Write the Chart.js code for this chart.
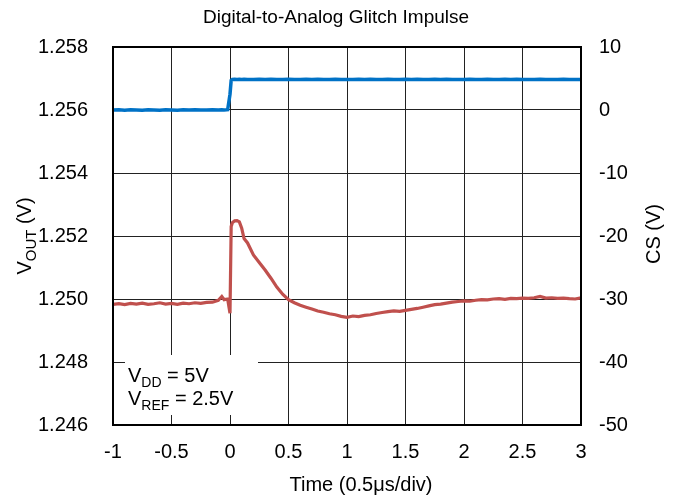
<!DOCTYPE html>
<html>
<head>
<meta charset="utf-8">
<script src="https://cdn.jsdelivr.net/npm/chart.js@4"></script>
<style>
  body { margin: 0; background: #fff; }
  #wrap { width: 673px; height: 500px; }
</style>
</head>
<body>
<div id="wrap"><canvas id="glitch"></canvas></div>
<script>
// time axis (0.5us/div), shared by both traces
const time = [
  -1.00, -0.95, -0.90, -0.85, -0.80, -0.75, -0.70, -0.65, -0.60, -0.55,
  -0.50, -0.45, -0.40, -0.35, -0.30, -0.25, -0.20, -0.15, -0.10, -0.07,
  -0.05, -0.02, 0.00, 0.01, 0.02, 0.04, 0.06, 0.08, 0.10, 0.12,
  0.15, 0.20, 0.25, 0.30, 0.35, 0.40, 0.45, 0.50, 0.55, 0.60,
  0.65, 0.70, 0.75, 0.80, 0.85, 0.90, 0.95, 1.00, 1.05, 1.10,
  1.15, 1.20, 1.25, 1.30, 1.35, 1.40, 1.45, 1.50, 1.55, 1.60,
  1.65, 1.70, 1.75, 1.80, 1.85, 1.90, 1.95, 2.00, 2.05, 2.10,
  2.15, 2.20, 2.25, 2.30, 2.35, 2.40, 2.45, 2.50, 2.55, 2.60,
  2.65, 2.70, 2.75, 2.80, 2.85, 2.90, 2.95, 3.00
];

// VOUT (V), left axis
const vout = [
  1.24983, 1.24985, 1.24982, 1.24986, 1.24984, 1.24987, 1.24983, 1.24985, 1.24988, 1.24984,
  1.24986, 1.24983, 1.24987, 1.24985, 1.24988, 1.24986, 1.24989, 1.24990, 1.24996, 1.25008,
  1.24998, 1.25000, 1.24955, 1.25230, 1.25242, 1.25248, 1.25249, 1.25245, 1.25225, 1.25192,
  1.25178, 1.25140, 1.25116, 1.25092, 1.25066, 1.25038, 1.25015, 1.24998, 1.24988, 1.24980,
  1.24974, 1.24968, 1.24962, 1.24958, 1.24953, 1.24950, 1.24945, 1.24942, 1.24946, 1.24944,
  1.24948, 1.24950, 1.24954, 1.24957, 1.24960, 1.24962, 1.24961, 1.24964, 1.24967, 1.24970,
  1.24974, 1.24978, 1.24982, 1.24984, 1.24987, 1.24990, 1.24992, 1.24994, 1.24993, 1.24996,
  1.24998, 1.24997, 1.25000, 1.25001, 1.24999, 1.25002, 1.25001, 1.25003, 1.25002, 1.25004,
  1.25008, 1.25003, 1.25004, 1.25002, 1.25003, 1.25001, 1.25000, 1.25004
];

// CS (V), right axis
const cs = [
  0.00, 0.03, -0.02, 0.02, 0.00, -0.03, 0.02, 0.01, -0.02, 0.03,
  0.00, -0.02, 0.02, 0.00, 0.03, -0.01, 0.01, 0.02, 0.00, 0.02,
  0.01, 0.05, 2.50, 4.70, 4.86, 4.88, 4.84, 4.87, 4.85, 4.88,
  4.86, 4.84, 4.87, 4.85, 4.88, 4.86, 4.84, 4.87, 4.85, 4.86,
  4.88, 4.85, 4.87, 4.84, 4.86, 4.88, 4.85, 4.86, 4.84, 4.87,
  4.85, 4.88, 4.86, 4.84, 4.87, 4.85, 4.86, 4.88, 4.85, 4.87,
  4.84, 4.86, 4.88, 4.85, 4.87, 4.84, 4.86, 4.85, 4.88, 4.86,
  4.84, 4.87, 4.85, 4.86, 4.88, 4.85, 4.87, 4.84, 4.86, 4.85,
  4.87, 4.85, 4.86, 4.84, 4.87, 4.85, 4.86, 4.85
];

const FONT = '"Liberation Sans", Arial, sans-serif';

// titles, note box and plot frame
const decorPlugin = {
  id: 'decor',
  afterDatasetsDraw(chart) {
    const ctx = chart.ctx;
    const area = chart.chartArea;
    ctx.save();

    // note box, leaves the inward tick stubs visible
    ctx.fillStyle = '#fff';
    ctx.fillRect(area.left + 12, 355, 133, 60);

    ctx.fillStyle = '#000';
    ctx.textBaseline = 'alphabetic';
    ctx.textAlign = 'left';
    drawSub(ctx, 128, 382, 'V', 'DD', ' = 5V', 20, 14);
    drawSub(ctx, 128, 405, 'V', 'REF', ' = 2.5V', 20, 14);

    // frame
    ctx.strokeStyle = '#000';
    ctx.lineWidth = 2;
    ctx.strokeRect(area.left, area.top, area.right - area.left, area.bottom - area.top);

    // chart title
    ctx.textAlign = 'center';
    ctx.textBaseline = 'middle';
    ctx.font = '19px ' + FONT;
    ctx.fillText('Digital-to-Analog Glitch Impulse', 336, 18);

    // x title
    ctx.font = '20px ' + FONT;
    ctx.fillText('Time (0.5\u03bcs/div)', 361, 485);

    // right title
    ctx.save();
    ctx.translate(654, 234);
    ctx.rotate(-Math.PI / 2);
    ctx.fillText('CS (V)', 0, 0);
    ctx.restore();

    // left title with subscript
    ctx.save();
    ctx.translate(31, 236);
    ctx.rotate(-Math.PI / 2);
    ctx.textBaseline = 'alphabetic';
    ctx.textAlign = 'left';
    ctx.font = '20px ' + FONT;
    const w1 = ctx.measureText('V').width;
    const w3 = ctx.measureText(' (V)').width;
    ctx.font = '15px ' + FONT;
    const w2 = ctx.measureText('OUT').width;
    const total = w1 + w2 + w3;
    drawSub(ctx, -total / 2, 0, 'V', 'OUT', ' (V)', 20, 15);
    ctx.restore();

    ctx.restore();
  }
};

function drawSub(ctx, x, y, main, sub, rest, size, subSize) {
  ctx.font = size + 'px ' + FONT;
  ctx.fillText(main, x, y);
  x += ctx.measureText(main).width;
  ctx.font = subSize + 'px ' + FONT;
  ctx.fillText(sub, x, y + 5);
  x += ctx.measureText(sub).width;
  ctx.font = size + 'px ' + FONT;
  ctx.fillText(rest, x, y);
}

const ctx = document.getElementById('glitch').getContext('2d');

const chart = new Chart(ctx, {
  type: 'line',
  data: {
    datasets: [
      {
        label: 'CS',
        data: time.map((t, i) => ({ x: t, y: cs[i] })),
        yAxisID: 'y2',
        borderColor: '#0072C6',
        borderWidth: 3.5,
        pointRadius: 0,
        tension: 0
      },
      {
        label: 'VOUT',
        data: time.map((t, i) => ({ x: t, y: vout[i] })),
        yAxisID: 'y',
        borderColor: '#C0504D',
        borderWidth: 3.2,
        pointRadius: 0,
        tension: 0
      }
    ]
  },
  options: {
    animation: false,
    responsive: true,
    maintainAspectRatio: false,
    layout: { padding: { top: 47 } },
    plugins: {
      legend: { display: false },
      tooltip: { enabled: false },
      title: { display: false }
    },
    scales: {
      x: {
        type: 'linear',
        min: -1,
        max: 3,
        ticks: {
          stepSize: 0.5,
          color: '#000',
          padding: 15,
          font: { family: FONT, size: 20 },
          callback: (v) => String(v)
        },
        grid: { color: '#222', lineWidth: 1, drawTicks: false },
        border: { display: false },
        afterFit: (s) => { s.height = 75; }
      },
      y: {
        position: 'left',
        min: 1.246,
        max: 1.258,
        ticks: {
          stepSize: 0.002,
          color: '#000',
          padding: 25,
          font: { family: FONT, size: 20 },
          callback: (v) => v.toFixed(3)
        },
        grid: { color: '#222', lineWidth: 1, drawTicks: false },
        border: { display: false },
        afterFit: (s) => { s.width = 113; }
      },
      y2: {
        position: 'right',
        min: -50,
        max: 10,
        ticks: {
          stepSize: 10,
          color: '#000',
          padding: 18,
          font: { family: FONT, size: 20 }
        },
        grid: { display: false, drawTicks: false },
        border: { display: false },
        afterFit: (s) => { s.width = 92; }
      }
    }
  },
  plugins: [decorPlugin]
});
</script>
</body>
</html>
